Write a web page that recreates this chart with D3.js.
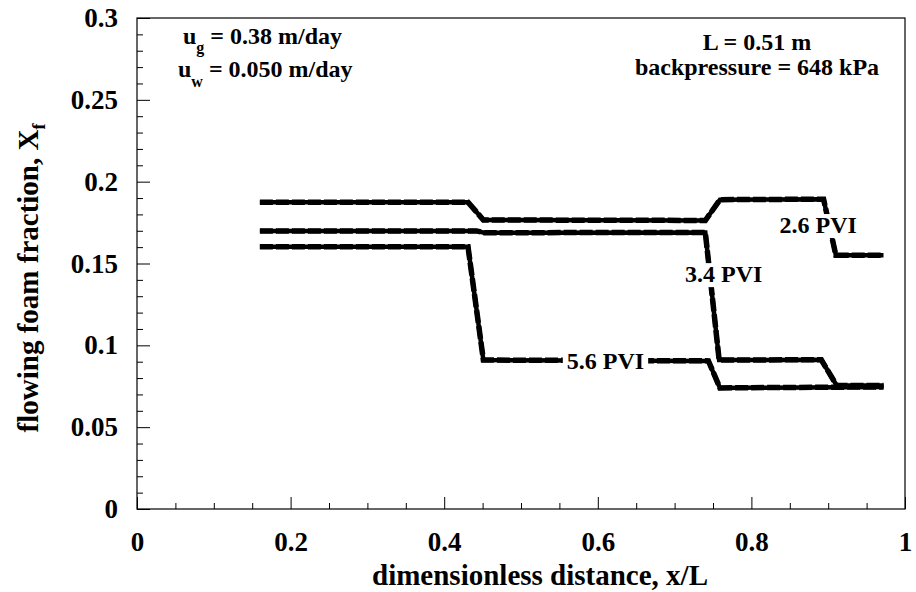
<!DOCTYPE html>
<html>
<head>
<meta charset="utf-8">
<script src="https://cdn.jsdelivr.net/npm/d3@7"></script>
<style>
  body { margin: 0; background: #fff; }
  svg text { font-family: "Liberation Serif", "Times New Roman", serif; font-weight: bold; fill: #000; }
</style>
</head>
<body>
<div id="vis"></div>
<script>
const FRAME_WIDTH = 916;
const FRAME_HEIGHT = 592;
const MARGINS = {left: 137, right: 11, top: 18, bottom: 83};

const VIS_WIDTH = FRAME_WIDTH - MARGINS.left - MARGINS.right;
const VIS_HEIGHT = FRAME_HEIGHT - MARGINS.top - MARGINS.bottom;

// data
const pvi26_x = [0.16, 0.431, 0.451, 0.740, 0.759, 0.894, 0.910, 0.972];
const pvi26_y = [0.1875, 0.1875, 0.1766, 0.1763, 0.1890, 0.1893, 0.1550, 0.1550];

const pvi34_x = [0.16, 0.442, 0.452, 0.740, 0.758, 0.891, 0.911, 0.972];
const pvi34_y = [0.1699, 0.1699, 0.1688, 0.1690, 0.0910, 0.0912, 0.0755, 0.0755];

const pvi56_x = [0.16, 0.431, 0.451, 0.744, 0.759, 0.972];
const pvi56_y = [0.1602, 0.1602, 0.0910, 0.0905, 0.0740, 0.0746];

const curveLabels = ["2.6 PVI", "3.4 PVI", "5.6 PVI"];
const labelX = [0.887, 0.764, 0.610];
const labelY = [0.1735, 0.1435, 0.0905];

const xMajor = [0, 0.2, 0.4, 0.6, 0.8, 1];
const xTickLabels = ["0", "0.2", "0.4", "0.6", "0.8", "1"];
const yMajor = [0, 0.05, 0.1, 0.15, 0.2, 0.25, 0.3];
const yTickLabels = ["0", "0.05", "0.1", "0.15", "0.2", "0.25", "0.3"];

const svg = d3.select("#vis")
  .append("svg")
    .attr("width", FRAME_WIDTH)
    .attr("height", FRAME_HEIGHT);

const X_SCALE = d3.scaleLinear().domain([0, 1]).range([0, VIS_WIDTH]);
const Y_SCALE = d3.scaleLinear().domain([0, 0.3]).range([VIS_HEIGHT, 0]);

const plot = svg.append("g")
  .attr("transform", "translate(" + MARGINS.left + "," + MARGINS.top + ")");

// minor ticks
const xMinor = d3.range(0, 1.0001, 0.05).filter(v => !xMajor.some(m => Math.abs(m - v) < 1e-6));
const yMinor = d3.range(0, 0.3001, 0.01).filter(v => !yMajor.some(m => Math.abs(m - v) < 1e-6));

plot.append("g")
  .attr("transform", "translate(0," + VIS_HEIGHT + ")")
  .call(d3.axisBottom(X_SCALE).tickValues(xMinor).tickSize(-6).tickFormat(""));

plot.append("g")
  .call(d3.axisLeft(Y_SCALE).tickValues(yMinor).tickSize(-6).tickFormat(""));

// major ticks + labels
plot.append("g")
  .attr("transform", "translate(0," + VIS_HEIGHT + ")")
  .call(d3.axisBottom(X_SCALE).tickValues(xMajor).tickSize(-12).tickPadding(23)
    .tickFormat((d, i) => xTickLabels[i]));

plot.append("g")
  .call(d3.axisLeft(Y_SCALE).tickValues(yMajor).tickSize(-13).tickPadding(19)
    .tickFormat((d, i) => yTickLabels[i]));

plot.selectAll(".domain").remove();
plot.selectAll(".tick line").attr("stroke", "#000").attr("stroke-width", 1);
plot.selectAll(".tick text")
  .attr("font-family", "Liberation Serif, Times New Roman, serif")
  .attr("font-weight", "bold")
  .attr("font-size", "27px");

// frame
plot.append("rect")
  .attr("x", 0).attr("y", 0)
  .attr("width", VIS_WIDTH).attr("height", VIS_HEIGHT)
  .attr("fill", "none").attr("stroke", "#000").attr("stroke-width", 1.2);

// curves
const curves = [
  {x: pvi26_x, y: pvi26_y},
  {x: pvi34_x, y: pvi34_y},
  {x: pvi56_x, y: pvi56_y}
];

const line = d3.line()
  .x(d => X_SCALE(d[0]))
  .y(d => Y_SCALE(d[1]));

curves.forEach(c => {
  const pts = c.x.map((v, i) => [v, c.y[i]]);
  plot.append("path")
    .datum(pts)
    .attr("d", line)
    .attr("fill", "none")
    .attr("stroke", "#000")
    .attr("stroke-width", 4.5)
    .attr("stroke-linejoin", "miter");
  plot.append("path")
    .datum(pts)
    .attr("d", line)
    .attr("fill", "none")
    .attr("stroke", "#000")
    .attr("stroke-width", 5.5)
    .attr("stroke-dasharray", "13,3");
});

// curve labels on white patches
curveLabels.forEach((lab, i) => {
  const g = plot.append("g");
  const bg = g.append("rect").attr("fill", "#fff");
  const t = g.append("text")
    .attr("x", X_SCALE(labelX[i]))
    .attr("y", Y_SCALE(labelY[i]) + 8)
    .attr("text-anchor", "middle")
    .attr("font-size", "24px")
    .text(lab);
  const bb = t.node().getBBox();
  bg.attr("x", bb.x - 4).attr("y", bb.y + 2)
    .attr("width", bb.width + 8).attr("height", bb.height - 2);
});

// annotations
const ug = svg.append("text").attr("x", 183).attr("y", 44).attr("font-size", "24px");
ug.append("tspan").text("u");
ug.append("tspan").attr("font-size", "16px").attr("dy", 9).text("g");
ug.append("tspan").attr("dy", -9).text(" = 0.38 m/day");

const uw = svg.append("text").attr("x", 178).attr("y", 77).attr("font-size", "24px");
uw.append("tspan").text("u");
uw.append("tspan").attr("font-size", "16px").attr("dy", 10).text("w");
uw.append("tspan").attr("dy", -10).text(" = 0.050 m/day");

svg.append("text")
  .attr("x", 757).attr("y", 50)
  .attr("text-anchor", "middle").attr("font-size", "24px")
  .text("L = 0.51 m");
svg.append("text")
  .attr("x", 757).attr("y", 75)
  .attr("text-anchor", "middle").attr("font-size", "24px")
  .text("backpressure = 648 kPa");

// axis titles
svg.append("text")
  .attr("x", 540).attr("y", 585)
  .attr("text-anchor", "middle").attr("font-size", "29px")
  .text("dimensionless distance, x/L");

const yt = svg.append("text")
  .attr("transform", "translate(38,278) rotate(-90)")
  .attr("text-anchor", "middle").attr("font-size", "29px");
yt.append("tspan").text("flowing foam fraction, X");
yt.append("tspan").attr("font-size", "18px").attr("dy", 7).text("f");
</script>
</body>
</html>
